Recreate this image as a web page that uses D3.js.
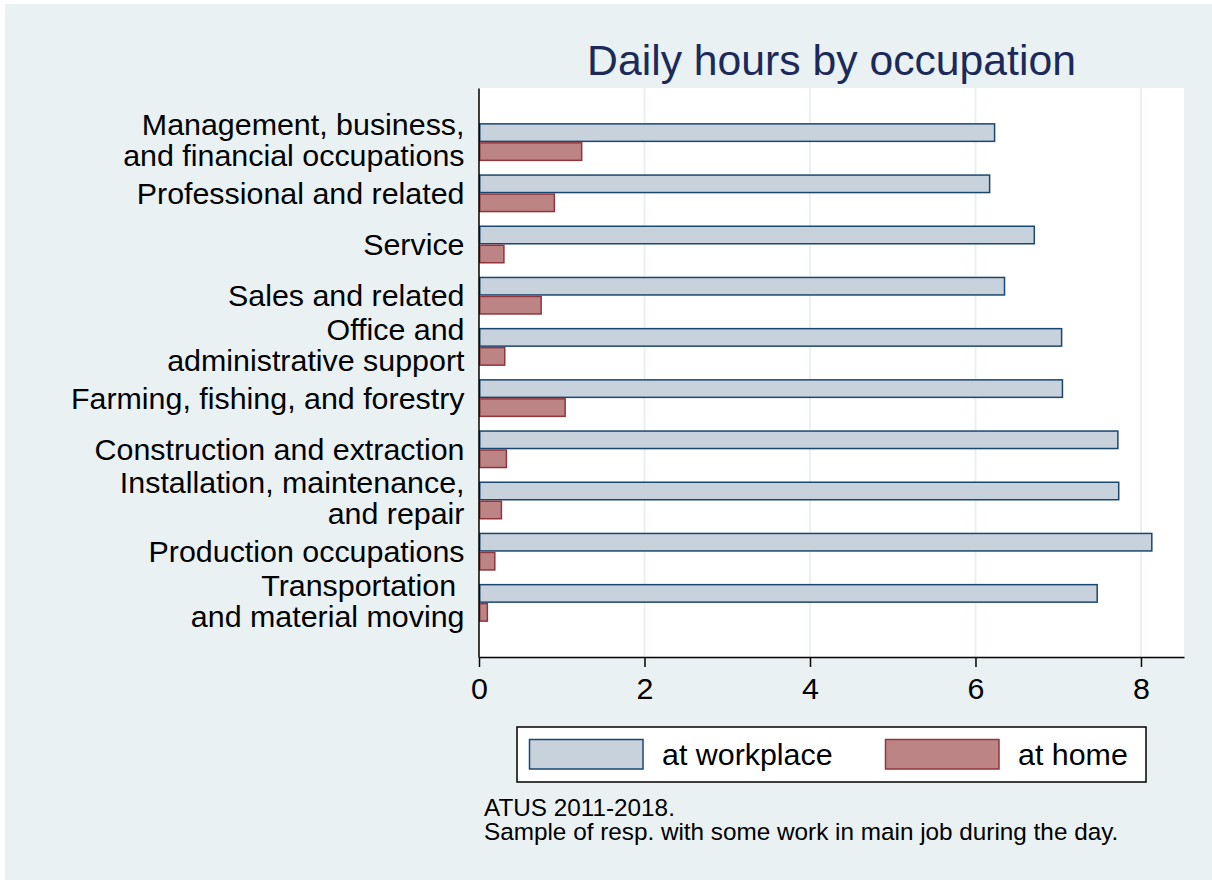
<!DOCTYPE html>
<html><head><meta charset="utf-8">
<script src="https://cdn.jsdelivr.net/npm/d3@7"></script>
<style>
body{margin:0;background:#fff}
svg{display:block}
text{font-family:"Liberation Sans",Arial,Helvetica,sans-serif}
</style>
</head><body><svg id="chart" width="1212" height="880"></svg>
<script>
const categories = [
  "Management, business,\nand financial occupations",
  "Professional and related",
  "Service",
  "Sales and related",
  "Office and\nadministrative support",
  "Farming, fishing, and forestry",
  "Construction and extraction",
  "Installation, maintenance,\nand repair",
  "Production occupations",
  "Transportation \nand material moving"
];
const seriesNames = ["at workplace", "at home"];
const atWorkplace = [6.24, 6.18, 6.72, 6.36, 7.05, 7.06, 7.73, 7.74, 8.14, 7.48];
const atHome = [1.25, 0.92, 0.31, 0.76, 0.32, 1.05, 0.34, 0.28, 0.20, 0.11];
const xTicks = [0, 2, 4, 6, 8];
const titleText = "Daily hours by occupation";
const noteLines = ["ATUS 2011-2018.", "Sample of resp. with some work in main job during the day."];

(function() {
const bg = "#e9f1f3";
const fills = {"at workplace": "#c7d2dc", "at home": "#bd8486"};
const strokes = {"at workplace": "#1a476f", "at home": "#90353b"};
const fs = 30.4;

const svg = d3.select("#chart");
svg.append("rect").attr("x", 5).attr("y", 4).attr("width", 1207).attr("height", 876).attr("fill", bg);

const pL = 479, pR = 1184, pT = 88, pB = 657;
const x = d3.scaleLinear().domain([0, 8.52]).range([pL, pR]);
const y = d3.scaleBand().domain(categories).range([pT, pB]).paddingInner(0.258).paddingOuter(0.686);
const sub = d3.scaleBand().domain(seriesNames).range([0, y.bandwidth()]);

svg.append("rect").attr("x", pL).attr("y", pT).attr("width", pR - pL).attr("height", pB - pT).attr("fill", "#fff");

svg.append("g").selectAll("line").data(xTicks.filter(d => d > 0)).join("line")
  .attr("x1", d => x(d)).attr("x2", d => x(d)).attr("y1", pT).attr("y2", pB)
  .attr("stroke", bg).attr("stroke-width", 2);

const rows = categories.map((c, i) => ({cat: c, vals: [
  {series: "at workplace", v: atWorkplace[i]},
  {series: "at home", v: atHome[i]}
]}));
const g = svg.append("g").selectAll("g").data(rows).join("g")
  .attr("transform", d => `translate(0,${y(d.cat)})`);
g.selectAll("rect").data(d => d.vals).join("rect")
  .attr("x", x(0) + 0.75)
  .attr("y", d => sub(d.series) + 0.75)
  .attr("width", d => x(d.v) - x(0) - 1.5)
  .attr("height", sub.bandwidth() - 1.5)
  .attr("fill", d => fills[d.series])
  .attr("stroke", d => strokes[d.series])
  .attr("stroke-width", 1.5);

const xAxis = svg.append("g").attr("transform", `translate(0,${pB})`)
  .call(d3.axisBottom(x).tickValues(xTicks).tickSize(10).tickSizeOuter(0).tickPadding(10).tickFormat(d3.format("d")));
xAxis.select(".domain").attr("stroke", "#000").attr("stroke-width", 1.5);
xAxis.selectAll(".tick line").attr("stroke", "#000").attr("stroke-width", 1.5);
xAxis.selectAll(".tick text").attr("font-size", fs).attr("fill", "#000").style("font-family", '"Liberation Sans",Arial,sans-serif');

const yAxis = svg.append("g").attr("transform", `translate(${pL - 0.5},0)`)
  .call(d3.axisLeft(y).tickSize(0).tickSizeOuter(0).tickPadding(14));
yAxis.select(".domain").attr("stroke", "#000").attr("stroke-width", 1.5);
yAxis.selectAll(".tick text").each(function(d) {
  const t = d3.select(this);
  const lines = d.split("\n");
  const n = lines.length;
  const lh = 31;
  const off = n > 1 ? 8.5 : 10.5;
  t.text(null).attr("dy", null).attr("font-size", fs).attr("fill", "#000")
   .style("font-family", '"Liberation Sans",Arial,sans-serif').style("white-space", "pre");
  lines.forEach((ln, i) => {
    t.append("tspan").attr("x", -14).attr("y", (i - (n - 1) / 2) * lh + off).text(ln);
  });
});

svg.append("text").attr("x", (pL + pR) / 2).attr("y", 75).attr("text-anchor", "middle")
  .attr("font-size", 42.7).attr("fill", "#1c2a5a").text(titleText);

const lg = svg.append("g");
lg.append("rect").attr("x", 517).attr("y", 727).attr("width", 629).attr("height", 55)
  .attr("fill", "#fff").attr("stroke", "#000").attr("stroke-width", 1.5);
const legendKeyX = [529.5, 885.5];
const legendTextX = [662, 1018];
seriesNames.forEach((s, i) => {
  lg.append("rect").attr("x", legendKeyX[i]).attr("y", 739.5).attr("width", 113.5).attr("height", 29.5)
    .attr("fill", fills[s]).attr("stroke", strokes[s]).attr("stroke-width", 1.5);
  lg.append("text").attr("x", legendTextX[i]).attr("y", 765).attr("font-size", fs).attr("fill", "#000").text(s);
});

svg.append("g").selectAll("text").data(noteLines).join("text")
  .attr("x", 484).attr("y", (d, i) => 815.5 + i * 24.5).attr("font-size", 24.3).attr("fill", "#000").text(d => d);
})();
</script>
</body></html>
